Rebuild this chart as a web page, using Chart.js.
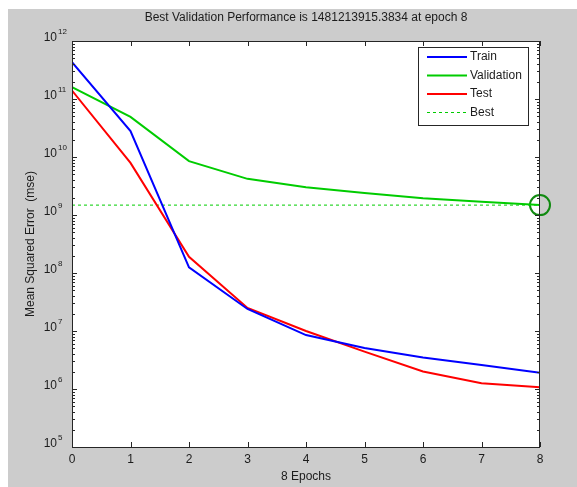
<!DOCTYPE html>
<html>
<head>
<meta charset="utf-8">
<script src="https://cdn.jsdelivr.net/npm/chart.js@4/dist/chart.umd.min.js"></script>
<style>
  html, body { margin: 0; padding: 0; background: #fff; }
  canvas { display: block; }
</style>
</head>
<body>
<canvas id="perfChart" width="577" height="487"></canvas>
<script>
// training record, mse per epoch
const epochs = [0, 1, 2, 3, 4, 5, 6, 7, 8];
const trainMse = [4.3e11, 2.8e10, 1.25e8, 2.4e7, 8.5e6, 5.1e6, 3.5e6, 2.6e6, 1.9e6];
const validationMse = [1.6e11, 4.9e10, 8.5e9, 4.2e9, 3.0e9, 2.4e9, 1.95e9, 1.7e9, 1481213915.3834];
const testMse = [1.4e11, 7.9e9, 1.9e8, 2.5e7, 1.0e7, 4.4e6, 2.0e6, 1.26e6, 1.07e6];
const bestEpoch = 8;
const bestPerf = 1481213915.3834;
const xTicks = [0, 1, 2, 3, 4, 5, 6, 7, 8];
const yDecades = [5, 6, 7, 8, 9, 10, 11, 12];

const FONT = '"Liberation Sans", Arial, sans-serif';
const TEXT = '#1c1c1c';

function pts(ys) {
  return epochs.map(function(e, i) { return { x: e, y: ys[i] }; });
}

// figure background, frame, ticks, labels and legend, matlab style
const matlabAxes = {
  id: 'matlabAxes',
  beforeDraw: function(chart) {
    const ctx = chart.ctx;
    const a = chart.chartArea;
    ctx.save();
    ctx.fillStyle = '#ffffff';
    ctx.fillRect(0, 0, chart.width, chart.height);
    ctx.fillStyle = '#cccccc';
    ctx.fillRect(8, 9, chart.width - 8, chart.height - 9);
    ctx.fillStyle = '#ffffff';
    ctx.fillRect(a.left, a.top, a.right - a.left, a.bottom - a.top);
    ctx.restore();
  },
  afterDatasetsDraw: function(chart) {
    const ctx = chart.ctx;
    const a = chart.chartArea;
    const xs = chart.scales.x;
    const ys = chart.scales.y;
    ctx.save();
    ctx.strokeStyle = '#262626';
    ctx.lineWidth = 1;

    // x ticks top and bottom
    ctx.beginPath();
    xTicks.forEach(function(t) {
      const px = Math.round(xs.getPixelForValue(t)) + 0.5;
      ctx.moveTo(px, a.bottom); ctx.lineTo(px, a.bottom - 5);
      ctx.moveTo(px, a.top); ctx.lineTo(px, a.top + 5);
    });
    // y ticks, decades and minors, both sides
    yDecades.forEach(function(d) {
      for (let m = 1; m <= 9; m++) {
        if (d === 12 && m > 1) break;
        const py = Math.round(ys.getPixelForValue(m * Math.pow(10, d))) + 0.5;
        const len = m === 1 ? 5 : 3;
        ctx.moveTo(a.left, py); ctx.lineTo(a.left + len, py);
        ctx.moveTo(a.right, py); ctx.lineTo(a.right - len, py);
      }
    });
    ctx.stroke();

    // frame
    ctx.strokeRect(a.left + 0.5, a.top + 0.5, a.right - a.left - 1, a.bottom - a.top);

    ctx.fillStyle = TEXT;
    // x tick labels
    ctx.font = '12px ' + FONT;
    ctx.textAlign = 'center';
    ctx.textBaseline = 'middle';
    xTicks.forEach(function(t) {
      ctx.fillText(String(t), xs.getPixelForValue(t), a.bottom + 13);
    });
    ctx.fillText('8 Epochs', (a.left + a.right) / 2, a.bottom + 30);

    // y tick labels as 10^n
    yDecades.forEach(function(d) {
      const py = ys.getPixelForValue(Math.pow(10, d));
      ctx.font = '12px ' + FONT;
      ctx.textAlign = 'right';
      ctx.fillText('10', 57, py - 3);
      ctx.font = '8px ' + FONT;
      ctx.textAlign = 'left';
      ctx.fillText(String(d), 58, py - 9);
    });

    // axis titles
    ctx.font = '12px ' + FONT;
    ctx.textAlign = 'center';
    ctx.fillText('Best Validation Performance is 1481213915.3834 at epoch 8', (a.left + a.right) / 2, 18);
    ctx.save();
    ctx.translate(31, (a.top + a.bottom) / 2);
    ctx.rotate(-Math.PI / 2);
    ctx.fillText('Mean Squared Error  (mse)', 0, 0);
    ctx.restore();

    // legend box
    const lx = 418, ly = 47, lw = 110, lh = 78;
    ctx.fillStyle = '#ffffff';
    ctx.fillRect(lx, ly, lw, lh);
    ctx.strokeStyle = '#262626';
    ctx.strokeRect(lx + 0.5, ly + 0.5, lw, lh);
    const rows = [0, 1, 2, 3];
    rows.forEach(function(i) {
      const ds = chart.data.datasets[i];
      const yy = ly + 10 + i * 18.5;
      ctx.strokeStyle = ds.borderColor;
      ctx.lineWidth = i === 3 ? 1 : 2;
      ctx.setLineDash(ds.borderDash || []);
      ctx.beginPath();
      ctx.moveTo(lx + 9, yy); ctx.lineTo(lx + 49, yy);
      ctx.stroke();
      ctx.setLineDash([]);
      ctx.fillStyle = TEXT;
      ctx.font = '12px ' + FONT;
      ctx.textAlign = 'left';
      ctx.fillText(ds.label, lx + 52, yy);
    });
    ctx.restore();
  }
};

new Chart(document.getElementById('perfChart').getContext('2d'), {
  type: 'line',
  data: {
    datasets: [{
      label: 'Train',
      data: pts(trainMse),
      borderColor: '#0000ff',
      borderWidth: 2,
      pointRadius: 0,
      tension: 0
    }, {
      label: 'Validation',
      data: pts(validationMse),
      borderColor: '#00cc00',
      borderWidth: 2,
      pointRadius: 0,
      tension: 0
    }, {
      label: 'Test',
      data: pts(testMse),
      borderColor: '#ff0000',
      borderWidth: 2,
      pointRadius: 0,
      tension: 0
    }, {
      label: 'Best',
      data: [{ x: epochs[0], y: bestPerf }, { x: epochs[epochs.length - 1], y: bestPerf }],
      borderColor: '#00cc00',
      borderWidth: 1,
      borderDash: [3, 3],
      pointRadius: 0
    }, {
      label: 'Best epoch',
      data: [{ x: bestEpoch, y: bestPerf }],
      showLine: false,
      borderColor: '#108a10',
      backgroundColor: 'rgba(0,0,0,0)',
      pointRadius: 10,
      pointBorderWidth: 2,
      pointHoverRadius: 10,
      clip: false
    }]
  },
  options: {
    responsive: false,
    animation: false,
    events: [],
    layout: { padding: { top: 41, right: 37, left: 0, bottom: 0 } },
    plugins: {
      legend: { display: false },
      title: { display: false },
      tooltip: { enabled: false }
    },
    scales: {
      x: {
        type: 'linear',
        min: 0,
        max: 8,
        grid: { display: false },
        border: { display: false },
        ticks: { display: false },
        afterFit: function(s) { s.height = 40; }
      },
      y: {
        type: 'logarithmic',
        min: 1e5,
        max: 1e12,
        grid: { display: false },
        border: { display: false },
        ticks: { display: false },
        afterFit: function(s) { s.width = 72; }
      }
    }
  },
  plugins: [matlabAxes]
});
</script>
</body>
</html>
